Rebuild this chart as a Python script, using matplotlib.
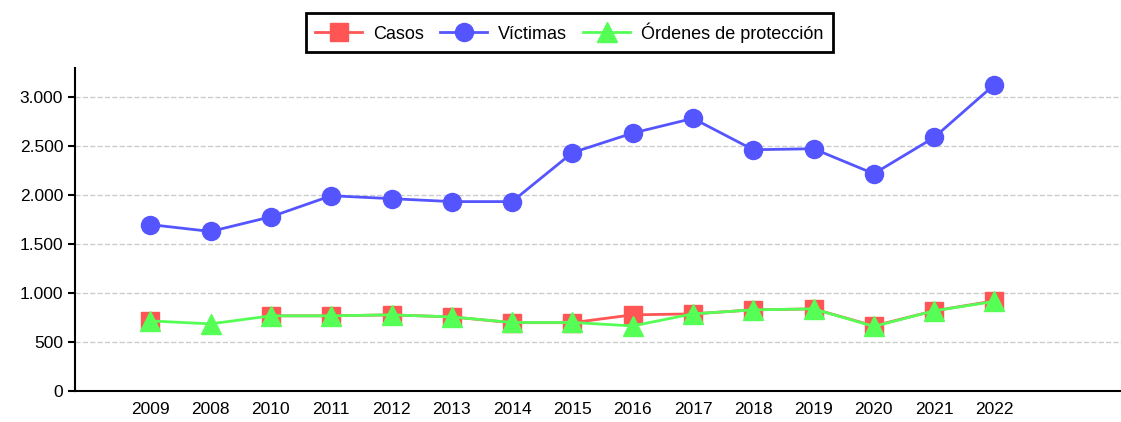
import numpy as np
import matplotlib.pyplot as plt

plt.rcParams['font.family'] = ['Liberation Sans', 'DejaVu Sans']

years = ['2009', '2008', '2010', '2011', '2012', '2013', '2014', '2015',
         '2016', '2017', '2018', '2019', '2020', '2021', '2022']
casos = [716, np.nan, 768, 768, 778, 757, 698, 698, 778, 788, 829, 839, 665, 819, 921]
victimas = [1700, 1630, 1780, 1995, 1965, 1935, 1935, 2435, 2635, 2785,
            2465, 2475, 2220, 2590, 3130]
ordenes = [716, 686, 768, 768, 778, 757, 700, 700, 665, 788, 829, 839, 660, 819, 915]

fig = plt.figure(figsize=(11.21, 4.22), dpi=100)
ax = fig.add_axes([75/1121, 31/422, 1 - 75/1121, (391-68)/422])

x = np.arange(len(years))
ax.plot(x, casos, color='#ff5555', marker='s', markersize=13, lw=2, label='Casos')
ax.plot(x, victimas, color='#5555ff', marker='o', markersize=13, lw=2, label='Víctimas')
ax.plot(x, ordenes, color='#55ff55', marker='^', markersize=14, lw=2,
        label='Órdenes de protección')

ax.set_xticks(x)
ax.set_xticklabels(years, fontsize=12.5)
ax.set_xlim(-1.25, 16.1)
ax.set_ylim(0, 3300)
ax.set_yticks(range(0, 3001, 500))
ax.set_yticklabels(['0', '500', '1.000', '1.500', '2.000', '2.500', '3.000'], fontsize=12.5)
ax.yaxis.grid(True, linestyle='--', color='#cccccc', lw=1)
ax.set_axisbelow(True)
for s in ['top', 'right']:
    ax.spines[s].set_visible(False)
ax.spines['left'].set_linewidth(1.5)
ax.spines['bottom'].set_linewidth(1.5)
ax.tick_params(axis='x', length=0, pad=8)
ax.tick_params(axis='y', length=5, width=1.5)

leg = fig.legend(loc='upper center', bbox_to_anchor=(0.508, 0.99), ncol=3, fontsize=13,
                 frameon=True, fancybox=False, edgecolor='black', handlelength=2.6,
                 columnspacing=0.9, handletextpad=0.6, borderpad=0.5, framealpha=1)
leg.get_frame().set_linewidth(2)

fig.savefig('out.png', dpi=100)
